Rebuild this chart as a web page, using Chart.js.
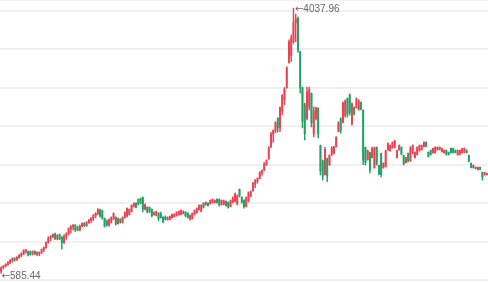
<!DOCTYPE html>
<html>
<head>
<meta charset="utf-8">
<title>创业板指 周K</title>
<script src="https://cdn.jsdelivr.net/npm/chart.js@4.4.1/dist/chart.umd.min.js"></script>
<style>
  html, body { margin: 0; padding: 0; background: #fff; }
  #wrap { width: 488px; height: 282px; position: relative; }
</style>
</head>
<body>
<div id="wrap"><canvas id="kline"></canvas></div>
<script>
// Weekly candles, first week starts 2012-12-03
const opens = [
  612, 660, 678, 700, 725, 752, 780, 762, 792, 818,
  840, 875, 870, 868, 835, 870, 832, 840, 860, 895,
  920, 988, 1045, 1065, 1100, 1035, 1090, 1058, 985, 1070,
  1100, 1165, 1190, 1215, 1180, 1150, 1200, 1240, 1205, 1245,
  1275, 1300, 1335, 1365, 1410, 1400, 1300, 1270, 1212, 1250,
  1300, 1318, 1232, 1292, 1250, 1310, 1330, 1352, 1395, 1455,
  1500, 1550, 1560, 1570, 1420, 1448, 1445, 1420, 1348, 1340,
  1372, 1360, 1318, 1320, 1285, 1290, 1310, 1325, 1340, 1350,
  1355, 1365, 1385, 1370, 1290, 1300, 1355, 1378, 1420, 1395,
  1500, 1480, 1500, 1492, 1508, 1510, 1550, 1545, 1480, 1485,
  1525, 1510, 1455, 1510, 1525, 1490, 1680, 1575, 1535, 1455,
  1525, 1590, 1660, 1750, 1790, 1825, 1895, 1930, 2010, 2075,
  2230, 2395, 2440, 2600, 2480, 2700, 2850, 3000, 3330, 3420,
  3600, 3850, 3900, 3465, 3000, 2780, 2600, 2750, 2930, 2400,
  2600, 2735, 2250, 2050, 1870, 2080, 2000, 2130, 2150, 2235,
  2430, 2600, 2550, 2640, 2860, 2910, 2530, 2745, 2740, 2720,
  2810, 2710, 2225, 2065, 2160, 2090, 1960, 2225, 1990, 2145,
  1960, 1975, 2192, 2180, 2220, 2225, 2090, 2192, 2228, 2120,
  2025, 2148, 2050, 2150, 2090, 2130, 2180, 2195, 2235, 2292,
  2162, 2188, 2155, 2160, 2195, 2198, 2170, 2155, 2188, 2162,
  2215, 2212, 2190, 2130, 2135, 2158, 2160, 2190, 2122, 2020,
  1960, 1968, 1935, 1966, 1900, 1868, 1870
];
const highs = [
  672, 690, 712, 740, 765, 790, 792, 805, 830, 855,
  895, 900, 880, 878, 880, 878, 868, 865, 905, 932,
  998, 1062, 1078, 1102, 1112, 1090, 1098, 1065, 1090, 1115,
  1180, 1208, 1222, 1220, 1200, 1215, 1245, 1248, 1260, 1290,
  1312, 1352, 1378, 1428, 1422, 1412, 1308, 1282, 1296, 1322,
  1375, 1322, 1308, 1298, 1322, 1388, 1440, 1425, 1478, 1505,
  1505, 1556, 1568, 1582, 1490, 1452, 1450, 1425, 1386, 1398,
  1375, 1385, 1322, 1334, 1322, 1335, 1360, 1362, 1388, 1400,
  1412, 1400, 1388, 1374, 1348, 1374, 1414, 1440, 1478, 1480,
  1505, 1516, 1504, 1542, 1556, 1543, 1555, 1556, 1542, 1540,
  1530, 1516, 1542, 1582, 1635, 1608, 1686, 1582, 1542, 1582,
  1648, 1660, 1770, 1808, 1830, 1910, 1935, 2028, 2065, 2235,
  2420, 2455, 2560, 2612, 2755, 2912, 3005, 3275, 3625, 3690,
  4037.96, 3960, 3925, 3480, 3011, 2803, 3011, 3011, 2935, 2751,
  2751, 2740, 2257, 2061, 2231, 2087, 2130, 2235, 2240, 2365,
  2560, 2610, 2820, 2845, 2870, 2922, 2805, 2752, 2870, 2845,
  2818, 2714, 2231, 2191, 2165, 2231, 2231, 2231, 1996, 2152,
  2025, 2191, 2285, 2258, 2298, 2322, 2192, 2258, 2232, 2126,
  2100, 2152, 2235, 2260, 2168, 2232, 2258, 2258, 2298, 2298,
  2166, 2192, 2218, 2232, 2232, 2232, 2218, 2192, 2192, 2166,
  2218, 2217, 2192, 2192, 2192, 2218, 2218, 2192, 2126, 2022,
  1996, 1972, 1970, 1970, 1905, 1905, 1892
];
const lows = [
  585.44, 645, 670, 690, 712, 730, 745, 755, 780, 800,
  830, 850, 812, 822, 825, 828, 815, 815, 845, 868,
  915, 980, 1010, 1050, 1025, 1022, 1025, 900, 975, 1030,
  1090, 1110, 1150, 1130, 1140, 1140, 1190, 1195, 1198, 1235,
  1245, 1270, 1310, 1350, 1318, 1290, 1188, 1200, 1202, 1240,
  1285, 1215, 1228, 1240, 1240, 1305, 1320, 1345, 1385, 1450,
  1437, 1476, 1489, 1385, 1412, 1372, 1375, 1320, 1344, 1334,
  1270, 1305, 1242, 1280, 1278, 1282, 1305, 1318, 1332, 1345,
  1346, 1358, 1320, 1305, 1280, 1292, 1345, 1370, 1410, 1385,
  1436, 1475, 1462, 1488, 1500, 1500, 1500, 1462, 1475, 1476,
  1462, 1436, 1450, 1502, 1515, 1476, 1580, 1500, 1436, 1450,
  1515, 1580, 1655, 1700, 1760, 1820, 1860, 1925, 1990, 2070,
  2225, 2290, 2415, 2425, 2430, 2650, 2780, 2998, 3320, 3340,
  3580, 3600, 3460, 2930, 2480, 2322, 2582, 2712, 2491, 2361,
  2582, 2348, 1866, 1800, 1866, 1779, 1990, 2120, 2140, 2230,
  2425, 2410, 2543, 2620, 2620, 2645, 2515, 2645, 2735, 2710,
  2712, 2000, 1996, 2060, 1892, 2087, 1957, 1996, 1866, 1840,
  1955, 1970, 2190, 2178, 2216, 2217, 2087, 2190, 2126, 1996,
  2022, 2035, 2045, 2140, 2087, 2126, 2178, 2190, 2231, 2231,
  2100, 2126, 2150, 2152, 2190, 2192, 2165, 2152, 2126, 2126,
  2152, 2150, 2152, 2126, 2128, 2152, 2155, 2152, 2035, 1957,
  1957, 1944, 1931, 1931, 1800, 1866, 1866
];
const closes = [
  660, 680, 705, 728, 755, 780, 760, 795, 820, 845,
  885, 892, 825, 835, 870, 840, 860, 862, 895, 920,
  990, 1050, 1070, 1095, 1040, 1080, 1035, 985, 1070, 1105,
  1170, 1200, 1215, 1150, 1150, 1205, 1238, 1205, 1250, 1280,
  1305, 1340, 1368, 1418, 1335, 1305, 1200, 1215, 1285, 1312,
  1365, 1235, 1298, 1250, 1312, 1378, 1430, 1418, 1470, 1498,
  1445, 1490, 1500, 1420, 1480, 1385, 1392, 1335, 1380, 1390,
  1300, 1312, 1260, 1290, 1315, 1328, 1352, 1355, 1380, 1392,
  1405, 1395, 1335, 1315, 1340, 1365, 1405, 1430, 1470, 1468,
  1448, 1510, 1470, 1535, 1548, 1535, 1510, 1475, 1535, 1530,
  1470, 1448, 1532, 1572, 1620, 1598, 1595, 1512, 1450, 1570,
  1635, 1650, 1755, 1798, 1822, 1900, 1925, 2015, 2055, 2220,
  2400, 2445, 2545, 2480, 2740, 2900, 2985, 3260, 3600, 3650,
  3850, 3900, 3490, 3000, 2560, 2400, 2950, 2980, 2550, 2700,
  2740, 2400, 1920, 1850, 2200, 1860, 2120, 2220, 2232, 2355,
  2548, 2450, 2800, 2830, 2660, 2680, 2790, 2660, 2860, 2830,
  2725, 2060, 2030, 2180, 1930, 2215, 2220, 2010, 1880, 1870,
  2018, 2180, 2275, 2250, 2290, 2310, 2185, 2250, 2140, 2010,
  2090, 2045, 2220, 2250, 2160, 2225, 2250, 2252, 2290, 2240,
  2110, 2135, 2212, 2225, 2228, 2226, 2212, 2188, 2135, 2132,
  2160, 2158, 2158, 2186, 2188, 2210, 2212, 2160, 2045, 1965,
  1990, 1950, 1965, 1938, 1840, 1900, 1888
];

// horizontal grid lines, plus the top edge of the plot
const gridValues = [500, 1000, 1500, 2000, 2500, 3000, 3500, 4000];
const yMin = 474;
const yMax = 4143.5;

// one label per week, starting on the first Monday
const weeks = opens.map((_, i) => {
  const d = new Date(Date.UTC(2012, 11, 3 + i * 7));
  return d.toISOString().slice(0, 10);
});

const upColor = '#e94452';
const downColor = '#22a065';
const candleColor = (ctx) => closes[ctx.dataIndex] >= opens[ctx.dataIndex] ? upColor : downColor;

// arrow glyph from DejaVu (Liberation has none), number in Liberation Sans
function drawTag(ctx, text, x, y) {
  ctx.font = '10px "DejaVu Sans", sans-serif';
  ctx.fillText('←', x, y);
  const w = ctx.measureText('←').width;
  ctx.font = '10px "Liberation Sans", Arial, sans-serif';
  ctx.fillText(text, x + w, y);
}

const extremeLabels = {
  id: 'extremeLabels',
  afterDatasetsDraw(chart) {
    const { ctx, scales: { x, y } } = chart;
    const hiIdx = highs.indexOf(Math.max(...highs));
    const loIdx = lows.indexOf(Math.min(...lows));
    ctx.save();
    ctx.fillStyle = '#666666';
    ctx.textBaseline = 'middle';
    drawTag(ctx, highs[hiIdx].toFixed(2), x.getPixelForValue(hiIdx) + 1.5, y.getPixelForValue(highs[hiIdx]) + 1);
    drawTag(ctx, lows[loIdx].toFixed(2), x.getPixelForValue(loIdx) + 0.5, y.getPixelForValue(lows[loIdx]) + 2.5);
    ctx.restore();
  }
};

new Chart(document.getElementById('kline'), {
  type: 'bar',
  data: {
    labels: weeks,
    datasets: [
      {
        label: 'wick',
        data: lows.map((l, i) => [l, highs[i]]),
        backgroundColor: candleColor,
        barThickness: 0.8,
        grouped: false,
        order: 2
      },
      {
        label: 'body',
        data: opens.map((o, i) => [o, closes[i]]),
        backgroundColor: candleColor,
        barThickness: 1.3,
        grouped: false,
        order: 1
      }
    ]
  },
  options: {
    responsive: true,
    maintainAspectRatio: false,
    animation: false,
    layout: { padding: 0 },
    plugins: {
      legend: { display: false },
      tooltip: { enabled: false }
    },
    scales: {
      x: { display: false, offset: true },
      y: {
        min: yMin,
        max: yMax,
        afterBuildTicks: (axis) => {
          axis.ticks = gridValues.concat([yMax]).map(v => ({ value: v }));
        },
        ticks: { display: false },
        border: { display: false },
        grid: { color: '#eef0f3', lineWidth: 2, drawTicks: false }
      }
    }
  },
  plugins: [extremeLabels]
});
</script>
</body>
</html>
